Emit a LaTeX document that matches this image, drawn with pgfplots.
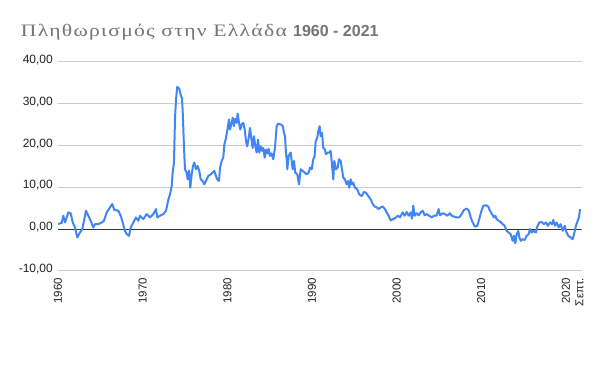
\documentclass[border=0pt]{standalone}
\usepackage{fontspec}
\usepackage{graphicx}
\setmainfont{Liberation Sans}
\newfontfamily\serifgr[LetterSpace=6]{Liberation Serif}
\newfontfamily\sansgr{Liberation Sans}
\usepackage{pgfplots}
\pgfplotsset{compat=1.18}
\definecolor{gline}{HTML}{4285F4}
\definecolor{gridc}{HTML}{CCCCCC}
\definecolor{titlec}{HTML}{757575}
\definecolor{labc}{HTML}{222222}
\definecolor{zeroc}{HTML}{333333}
\begin{document}
\begin{tikzpicture}
\path[use as bounding box, fill=white] (0pt,0pt) rectangle (600pt,371pt);
\node[anchor=base west, inner sep=0pt, text=titlec] at (20.7pt,334.3pt)
  {\resizebox{266pt}{\height}{\fontsize{17.5}{20}\selectfont\serifgr Πληθωρισμός στην Ελλάδα}};
\node[anchor=base west, inner sep=0pt, text=titlec] at (293pt,334.3pt)
  {\fontsize{16}{19}\selectfont\sansgr\bfseries 1960 - 2021};
\begin{axis}[
  at={(58pt,100pt)}, anchor=south west,
  scale only axis, width=523.7pt, height=209.3pt,
  xmin=1960, xmax=2021.87, ymin=-10, ymax=40,
  axis line style={draw=none},
  tick style={draw=none},
  ytick={-10,0,10,20,30,40},
  yticklabels={{-10,00},{0,00},{10,00},{20,00},{30,00},{40,00}},
  ymajorgrids,
  major grid style={gridc, line width=1pt},
  xtick={1960,1970,1980,1990,2000,2010,2020,2021.6},
  xticklabels={1960,1970,1980,1990,2000,2010,2020,Σεπτ.},
  xticklabel style={rotate=90, anchor=east, inner sep=0pt, font=\fontsize{11.5}{13}\selectfont, text=labc},
  xticklabel shift=7pt,
  yticklabel style={anchor=base east, inner sep=0pt, yshift=-1.6pt, font=\fontsize{12}{14}\selectfont, text=labc},
  yticklabel shift=5pt,
]
\draw[zeroc, line width=1pt] (axis cs:1960,0) -- (axis cs:2021.87,0);
\addplot[gline, line width=2pt, line join=round, mark=none] coordinates {
(1960.00,1.2) (1960.44,1.5) (1960.63,3.2) (1960.83,1.6) (1961.22,4.0) (1961.50,3.8)
(1961.74,1.6) (1962.01,0.4) (1962.28,-2.0) (1962.60,-0.8) (1962.87,0.0) (1963.11,2.4)
(1963.31,4.4) (1963.58,3.2) (1963.86,2.0) (1964.17,0.4) (1964.37,1.2) (1964.76,1.2)
(1965.16,1.6) (1965.43,2.0) (1965.75,4.0) (1966.14,5.2) (1966.41,6.0) (1966.65,4.6)
(1967.12,4.4) (1967.41,3.2) (1967.64,1.6) (1967.91,-0.4) (1968.12,-1.2) (1968.39,-1.6)
(1968.59,0.4) (1968.90,1.6) (1969.21,2.8) (1969.49,2.0) (1969.69,3.2) (1970.08,2.4)
(1970.48,3.6) (1970.87,2.8) (1971.26,3.6) (1971.58,4.8) (1971.73,2.8) (1972.05,3.2)
(1972.44,3.6) (1972.76,4.4) (1973.03,7.0) (1973.23,8.3) (1973.43,10.3) (1973.55,13.5)
(1973.70,15.9) (1973.82,26.2) (1973.94,31.0) (1974.09,34.0) (1974.33,33.5) (1974.49,32.1)
(1974.65,31.2) (1974.73,28.2) (1974.88,19.8) (1975.00,14.3) (1975.20,13.5) (1975.32,11.9)
(1975.48,14.0) (1975.63,9.9) (1975.79,13.1) (1975.95,15.1) (1976.10,15.9) (1976.30,14.3)
(1976.50,15.1) (1976.69,13.9) (1976.86,11.9) (1977.09,11.5) (1977.28,10.7) (1977.57,11.9)
(1977.76,12.7) (1978.04,13.1) (1978.27,13.5) (1978.46,13.9) (1978.66,12.7) (1978.82,11.9)
(1979.02,11.5) (1979.14,14.7) (1979.34,16.3) (1979.53,17.1) (1979.65,20.2) (1979.85,21.8)
(1980.05,24.2) (1980.20,26.2) (1980.32,23.8) (1980.52,25.4) (1980.64,26.6) (1980.79,24.6)
(1980.94,26.4) (1981.11,25.4) (1981.23,27.6) (1981.38,25.4) (1981.54,23.8) (1981.70,25.0)
(1981.89,25.4) (1982.06,23.8) (1982.21,21.0) (1982.36,19.8) (1982.53,21.8) (1982.68,24.2)
(1982.83,21.8) (1983.00,19.4) (1983.15,22.2) (1983.31,19.8) (1983.47,18.3) (1983.63,21.4)
(1983.78,18.3) (1983.94,19.8) (1984.10,18.7) (1984.25,19.4) (1984.42,17.1) (1984.57,19.0)
(1984.73,18.1) (1984.89,19.2) (1985.04,17.5) (1985.24,18.1) (1985.43,16.7) (1985.63,19.4)
(1985.83,24.6) (1986.02,25.2) (1986.31,25.0) (1986.54,24.7) (1986.70,23.0) (1986.82,22.2)
(1986.93,18.3) (1987.02,16.7) (1987.09,14.3) (1987.25,17.5) (1987.49,18.3) (1987.72,14.3)
(1987.88,16.3) (1988.03,13.5) (1988.27,13.1) (1988.47,10.7) (1988.67,14.3) (1988.91,13.9)
(1989.14,13.5) (1989.38,13.1) (1989.62,13.5) (1989.77,14.7) (1989.97,14.3) (1990.16,16.7)
(1990.32,17.5) (1990.44,21.0) (1990.63,21.8) (1990.75,23.4) (1990.91,24.6) (1991.03,22.2)
(1991.19,23.0) (1991.34,19.4) (1991.51,19.1) (1991.66,17.9) (1991.86,18.3) (1992.05,18.3)
(1992.21,18.7) (1992.33,16.3) (1992.52,11.9) (1992.64,16.3) (1992.84,14.3) (1993.04,14.7)
(1993.19,16.7) (1993.40,16.3) (1993.55,14.3) (1993.70,12.3) (1993.90,11.9) (1994.10,10.7)
(1994.26,11.5) (1994.41,9.9) (1994.58,11.9) (1994.73,10.7) (1994.88,11.1) (1995.08,9.9)
(1995.36,9.5) (1995.59,8.3) (1995.88,7.9) (1996.15,8.9) (1996.38,8.7) (1996.66,7.9)
(1996.94,7.1) (1997.18,6.0) (1997.41,5.4) (1997.65,5.2) (1997.88,4.8) (1998.12,5.2)
(1998.36,5.4) (1998.59,4.9) (1998.83,4.0) (1999.06,3.2) (1999.30,2.1) (1999.61,2.4)
(1999.93,2.8) (2000.16,3.2) (2000.40,2.8) (2000.72,4.0) (2000.96,3.2) (2001.19,4.1)
(2001.43,3.2) (2001.66,4.0) (2001.82,2.5) (2001.97,5.6) (2002.14,3.2) (2002.37,3.8)
(2002.61,3.3) (2002.85,4.0) (2003.08,4.4) (2003.32,3.3) (2003.55,3.6) (2003.86,3.2)
(2004.14,2.8) (2004.42,3.2) (2004.73,3.2) (2004.97,4.8) (2005.13,3.3) (2005.45,3.8)
(2005.72,3.6) (2005.99,3.2) (2006.31,3.8) (2006.51,3.2) (2006.78,3.0) (2007.10,2.8)
(2007.41,2.8) (2007.69,3.6) (2007.96,4.6) (2008.28,4.9) (2008.55,4.4) (2008.75,2.8)
(2008.99,1.6) (2009.26,0.6) (2009.53,0.8) (2009.77,2.4) (2009.97,4.0) (2010.24,5.6)
(2010.56,5.7) (2010.83,5.4) (2011.03,4.4) (2011.27,3.6) (2011.50,2.8) (2011.66,3.2)
(2011.82,2.4) (2012.06,2.0) (2012.30,1.7) (2012.53,1.2) (2012.77,0.8) (2013.00,-0.4)
(2013.24,-0.8) (2013.48,-1.2) (2013.71,-2.8) (2013.87,-1.6) (2014.02,-3.4) (2014.19,-1.2)
(2014.38,-0.4) (2014.50,-2.0) (2014.69,-2.8) (2014.89,-2.4) (2015.13,-2.6) (2015.37,-1.6)
(2015.60,-1.2) (2015.76,0.0) (2015.96,-0.8) (2016.15,-0.4) (2016.47,-0.8) (2016.62,0.6)
(2016.86,1.6) (2017.14,1.7) (2017.41,1.2) (2017.65,1.6) (2017.88,0.8) (2018.12,1.6)
(2018.36,1.2) (2018.51,2.2) (2018.71,0.8) (2018.91,1.6) (2019.15,0.4) (2019.38,1.2)
(2019.62,-0.4) (2019.86,0.8) (2020.01,-0.4) (2020.28,-1.6) (2020.57,-2.0) (2020.80,-2.4)
(2020.96,-1.2) (2021.19,0.8) (2021.39,2.0) (2021.55,2.8) (2021.67,4.8)
};
\end{axis}
\end{tikzpicture}
\end{document}
